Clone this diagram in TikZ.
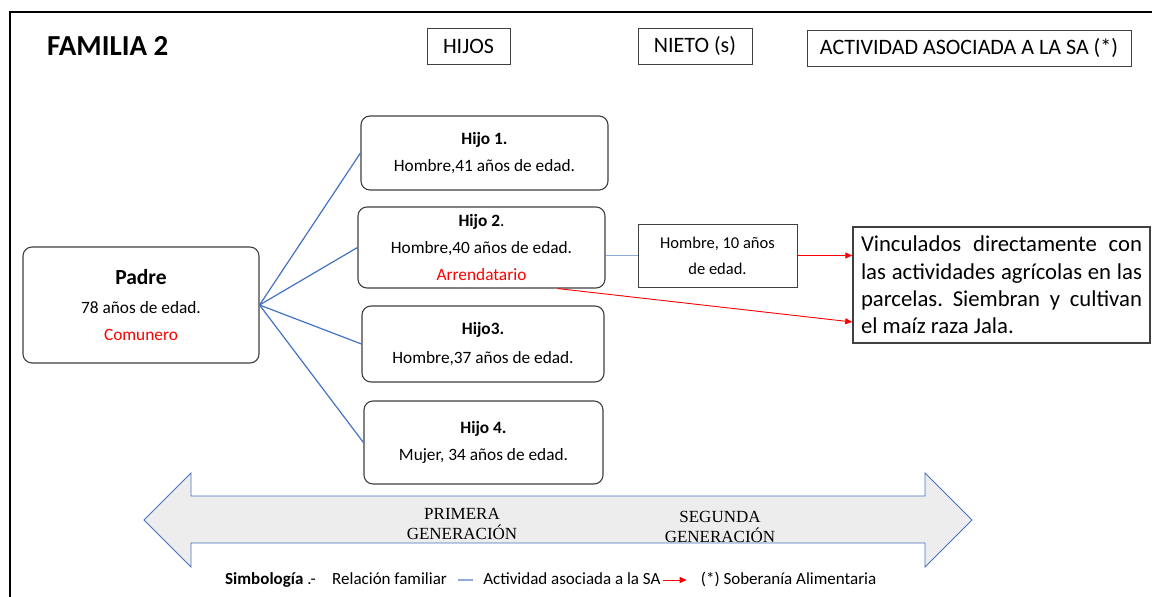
\documentclass[tikz,border=0pt]{standalone}
\usepackage{fontspec}
\setmainfont{Carlito}
\newfontfamily\genfont{Liberation Serif}
\usetikzlibrary{arrows.meta,positioning,calc}
\frenchspacing
\definecolor{fblue}{HTML}{4472C4}
\definecolor{flight}{HTML}{8FAADC}
\definecolor{fred}{HTML}{FF0000}
\definecolor{fgray}{HTML}{404040}
\definecolor{ffill}{HTML}{EDEDED}
\tikzset{
  persona/.style={draw=fgray,fill=white,rounded corners=9pt,line width=1.1pt,align=center,font=\fontsize{17.3pt}{27pt}\selectfont,inner sep=0pt},
  cabecera/.style={draw=fgray,line width=1pt,font=\fontsize{22pt}{26pt}\selectfont,inner sep=0pt,minimum height=36pt},
  rama/.style={draw=fblue,line width=1.2pt},
  sarr/.style={-{Triangle[length=7pt,width=6pt]},line width=0.9pt,draw=fred},
  gen/.style={font=\genfont\fontsize{17pt}{20pt}\selectfont,align=center,inner sep=0pt},
  ley/.style={font=\fontsize{17pt}{20pt}\selectfont,inner sep=0pt,text height=12pt,text depth=4pt},
}

\begin{document}
\begin{tikzpicture}[x=1pt,y=-1pt]
  \useasboundingbox (0,0) rectangle (1152,597);
  \fill[white] (0,0) rectangle (1152,597);
  % marco
  \draw[line width=2pt] (1152,12) -- (10,12) -- (10,597);
  % cabeceras
  \node[font=\fontsize{29pt}{32pt}\selectfont\bfseries,anchor=west,inner sep=0pt] (titulo) at (47,46) {FAMILIA 2};
  \node[cabecera,minimum width=83pt] (hijos) at (468.5,46) {HIJOS};
  \node[cabecera,minimum width=114pt] (nietos) at (695,46) {NIETO (s)};
  \node[cabecera,minimum width=324pt] (activsa) at (969,48) {ACTIVIDAD ASOCIADA A LA SA (*)};
  % familia
  \node[persona,minimum width=236pt,minimum height=116pt] (padre) at (141,305)
    {{\fontsize{21.5pt}{27pt}\selectfont\bfseries Padre}\\[2pt] 78 años de edad.\\ \textcolor{fred}{Comunero}};
  \node[persona,minimum width=247pt,minimum height=74pt] (hijoA) at (484.5,153)
    {\textbf{Hijo 1.}\\ Hombre,41 años de edad.};
  \node[persona,minimum width=247pt,minimum height=81pt] (hijoB) at (481.5,247.5)
    {\textbf{Hijo 2}.\\ Hombre,40 años de edad.\\ \textcolor{fred}{Arrendatario}};
  \node[persona,minimum width=242pt,minimum height=76pt] (hijoC) at (483,344)
    {\textbf{Hijo3.}\\[2pt] Hombre,37 años de edad.};
  \node[persona,minimum width=239pt,minimum height=83pt] (hijoD) at (483.5,442.5)
    {\textbf{Hijo 4.}\\ Mujer, 34 años de edad.};
  \node[draw=fgray,line width=1pt,align=center,font=\fontsize{16.5pt}{26pt}\selectfont,
    minimum width=159pt,minimum height=63pt,inner sep=0pt] (nieto) at (717.5,255.5)
    {Hombre, 10 años\\ de edad.};
  \node[draw=fgray,line width=1.5pt,font=\fontsize{22.7pt}{27.3pt}\selectfont,text width=281pt,
    align=justify,inner xsep=8pt,inner ysep=0pt,minimum height=116pt] (activ) at (1001.5,285)
    {\hyphenpenalty=10000 Vinculados directamente con\linebreak las actividades agrícolas en las\linebreak
     parcelas. Siembran y cultivan\linebreak el maíz raza Jala.};
  % relaciones
  \foreach \h in {hijoA,hijoB,hijoC,hijoD}
    \draw[rama] (padre.east) -- (\h.west);
  \draw[draw=flight,line width=1.2pt] (nieto.west -| hijoB.east) -- (nieto.west);
  \draw[sarr] (nieto.east) -- (nieto.east -| activ.west);
  \draw[sarr] ([xshift=-48pt]hijoB.south east) -- ([yshift=-37pt]activ.west);
  % generaciones
  \filldraw[fill=ffill,draw=fblue,line width=0.8pt] (144,520) -- (191,473) -- (191,496) -- (925,496)
    -- (925,473) -- (972,520) -- (925,567) -- (925,543) -- (191,543) -- (191,567) -- cycle;
  \node[gen] (primera) at (462,524) {PRIMERA\\GENERACIÓN};
  \node[gen] (segunda) at (720,526.5) {SEGUNDA\\GENERACIÓN};
  % simbologia
  \node[ley,anchor=west] (simb) at (225,580) {\textbf{Simbología} .-};
  \node[ley,right=16pt of simb] (relfam) {Relación familiar};
  \coordinate[right=11pt of relfam] (rayaA);
  \coordinate[right=15pt of rayaA] (rayaB);
  \node[ley,right=10pt of rayaB] (actleg) {Actividad asociada a la SA};
  \coordinate[right=2pt of actleg] (flechaA);
  \coordinate[right=24pt of flechaA] (flechaB);
  \node[ley,right=14pt of flechaB] (sober) {(*) Soberanía Alimentaria};
  \draw[draw=flight,line width=1.2pt] (rayaA) -- (rayaB);
  \draw[sarr] (flechaA) -- (flechaB);
\end{tikzpicture}
\end{document}
